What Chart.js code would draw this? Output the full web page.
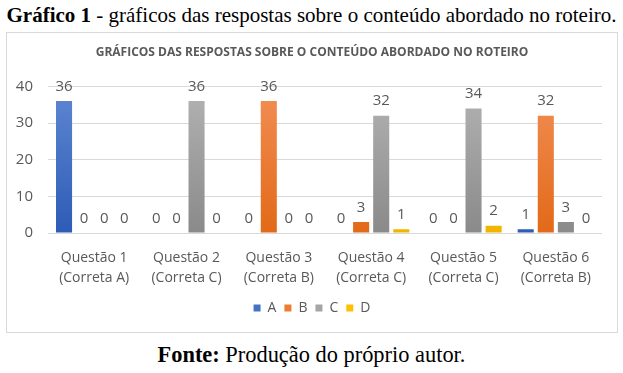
<!DOCTYPE html>
<html>
<head>
<meta charset="utf-8">
<script src="https://cdn.jsdelivr.net/npm/chart.js@4/dist/chart.umd.min.js"></script>
<style>
  body { margin: 0; background: #fff; width: 623px; height: 373px; position: relative; overflow: hidden; }
  .cap { position: absolute; left: 0; width: 623px; text-align: center; font-family: "Liberation Serif", "Times New Roman", serif; color: #000; }
  #top { top: 1px; font-size: 21px; line-height: 28px; }
  #bottom { top: 341px; font-size: 22.4px; line-height: 28px; }
  #box { position: absolute; left: 6px; top: 32px; width: 610px; height: 299px; border: 1px solid #d9d9d9; }
</style>
</head>
<body>
<div id="top" class="cap"><b>Gráfico 1</b> - gráficos das respostas sobre o conteúdo abordado no roteiro.</div>
<div id="box"><canvas id="myChart" width="610" height="299"></canvas></div>
<div id="bottom" class="cap"><b>Fonte:</b> Produção do próprio autor.</div>
<script>
const questions = [
    ['Questão 1', '(Correta A)'],
    ['Questão 2', '(Correta C)'],
    ['Questão 3', '(Correta B)'],
    ['Questão 4', '(Correta C)'],
    ['Questão 5', '(Correta C)'],
    ['Questão 6', '(Correta B)']
];
const answersA = [36, 0, 0, 0, 0, 1];
const answersB = [0, 0, 36, 3, 0, 32];
const answersC = [0, 36, 0, 32, 34, 3];
const answersD = [0, 0, 0, 1, 2, 0];
const yTicks = [0, 10, 20, 30, 40];

const textColor = '#595959';
const font = '"Open Sans", Lato, sans-serif';

// excel style gradient, lighter on top
function barFill(light, dark) {
    return function(context) {
        const chart = context.chart;
        if (!chart.chartArea) return dark;
        const y = chart.scales.y;
        const top = y.getPixelForValue(40);
        const bottom = y.getPixelForValue(0);
        const g = chart.ctx.createLinearGradient(0, top, 0, bottom);
        g.addColorStop(0, light);
        g.addColorStop(1, dark);
        return g;
    };
}

// value labels above the bars
const valueLabels = {
    id: 'valueLabels',
    afterDatasetsDraw(chart) {
        const ctx = chart.ctx;
        ctx.save();
        ctx.fillStyle = textColor;
        ctx.font = '15px ' + font;
        ctx.textAlign = 'center';
        ctx.textBaseline = 'bottom';
        chart.data.datasets.forEach((ds, i) => {
            chart.getDatasetMeta(i).data.forEach((bar, j) => {
                ctx.fillText(ds.data[j], bar.x, bar.y - 7);
            });
        });
        ctx.restore();
    }
};

const ctx = document.getElementById('myChart').getContext('2d');

const chart = new Chart(ctx, {
    type: 'bar',
    data: {
        labels: questions,
        datasets: [
            { label: 'A', data: answersA, backgroundColor: barFill('#5f87d2', '#2d5cb6') },
            { label: 'B', data: answersB, backgroundColor: barFill('#f28f55', '#e26918') },
            { label: 'C', data: answersC, backgroundColor: barFill('#b3b3b3', '#8a8a8a') },
            { label: 'D', data: answersD, backgroundColor: barFill('#ffc933', '#f0b400') }
        ]
    },
    options: {
        responsive: false,
        animation: false,
        layout: { padding: { left: 0, right: 0, top: 0, bottom: 7 } },
        datasets: { bar: { categoryPercentage: 0.87, barPercentage: 0.8 } },
        plugins: {
            title: {
                display: true,
                text: 'GRÁFICOS DAS RESPOSTAS SOBRE O CONTEÚDO ABORDADO NO ROTEIRO',
                color: textColor,
                font: { family: font, size: 12, weight: 'bold' },
                padding: { top: 12, bottom: 27 }
            },
            legend: {
                position: 'bottom',
                labels: {
                    color: textColor,
                    font: { family: font, size: 14 },
                    boxWidth: 7,
                    boxHeight: 7,
                    padding: 8,
                    generateLabels(chart) {
                        const solid = ['#4472c4', '#ed7d31', '#a5a5a5', '#ffc000'];
                        return chart.data.datasets.map((ds, i) => ({
                            text: ds.label,
                            fillStyle: solid[i],
                            strokeStyle: solid[i],
                            lineWidth: 0,
                            fontColor: textColor,
                            datasetIndex: i
                        }));
                    }
                }
            },
            tooltip: { enabled: false }
        },
        scales: {
            x: {
                grid: { display: false },
                border: { display: false },
                ticks: { color: textColor, font: { family: font, size: 14, lineHeight: '20px' }, padding: 7, maxRotation: 0 },
                afterFit(axis) { axis.height = 60; }
            },
            y: {
                min: 0,
                max: 40,
                afterBuildTicks(axis) { axis.ticks = yTicks.map(v => ({ value: v })); },
                grid: { color: '#d9d9d9', drawTicks: false },
                border: { display: false },
                ticks: { color: textColor, font: { family: font, size: 15 }, padding: 15 },
                afterFit(axis) { axis.width = 41; }
            },
            // empty right margin so the plot ends where the reference does
            yRight: {
                position: 'right',
                grid: { display: false },
                border: { display: false },
                ticks: { display: false },
                afterFit(axis) { axis.width = 15; }
            }
        }
    },
    plugins: [valueLabels]
});
</script>
</body>
</html>
